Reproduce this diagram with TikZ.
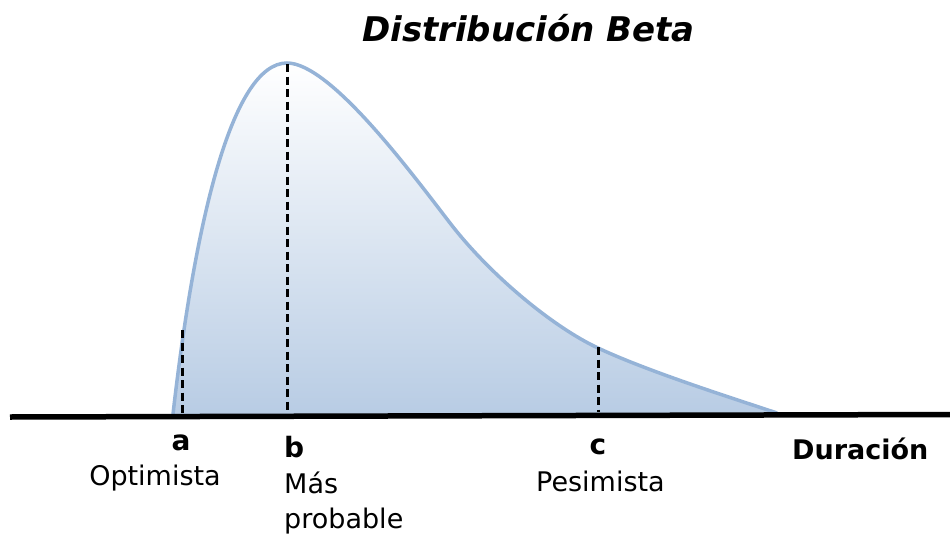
\documentclass[tikz,border=0pt]{standalone}
\usepackage{fontspec}
\setmainfont{DejaVu Sans}
\usepackage{xcolor}
\usetikzlibrary{calc}
\definecolor{curveline}{HTML}{95B3D7}
\definecolor{curvefill}{HTML}{B8CCE4}

\begin{document}
\begin{tikzpicture}[x=1pt, y=-1pt,
    lbl/.style={inner sep=0pt, font=\fontsize{27}{32}\selectfont},
    guide/.style={line width=3pt, dash pattern=on 8pt off 4.5pt}]
                        \useasboundingbox (0, 0) rectangle (950, 535);

                        \node[inner sep=0pt, anchor=base west, font=\fontsize{34}{40}\selectfont\bfseries\itshape] (title) at (362, 42) {Distribución Beta};

                        \coordinate (start) at (173, 414);
                        \coordinate (peak) at (287, 63);
                        \coordinate (bend) at (450, 223);
                        \coordinate (tail) at (598, 348);
                        \coordinate (stop) at (777, 413);

                        \path[top color=white, bottom color=curvefill]
                        (start) .. controls (195, 222) and (232, 63) .. (peak)
                        .. controls (330, 63) and (410, 171) .. (bend)
                        .. controls (490, 275) and (553, 327) .. (tail)
                        .. controls (648, 371.5) and (732, 398) .. (stop)
                        -- (777, 415) -- (173, 415) -- cycle;
                        \draw[curveline, line width=3.5pt]
                        (start) .. controls (195, 222) and (232, 63) .. (peak)
                        .. controls (330, 63) and (410, 171) .. (bend)
                        .. controls (490, 275) and (553, 327) .. (tail)
                        .. controls (648, 371.5) and (732, 398) .. (stop);

                        \coordinate (aTop) at (182, 330);
                        \coordinate (aBot) at (182, 413);
                        \coordinate (bTop) at (287, 64);
                        \coordinate (bBot) at (287, 412);
                        \coordinate (cTop) at (598, 347);
                        \coordinate (cBot) at (598, 412);
                        \coordinate (axL) at (10, 417);
                        \coordinate (axR) at (950, 414.5);

                        \draw[guide] (aTop) -- (aBot);
                        \draw[guide] (bTop) -- (bBot);
                        \draw[guide] (cTop) -- (cBot);
                        \draw[line width=5.5pt] (axL) -- (axR);

                        \node[lbl, anchor=base, font=\fontsize{28}{32}\selectfont\bfseries] (la) at (181, 450) {a};
                        \node[lbl, anchor=base] (opt) at (155, 485) {Optimista};
                        \node[lbl, anchor=base west, font=\fontsize{28}{32}\selectfont\bfseries] (lb) at (284, 457) {b};
                        \node[lbl, anchor=base west] (mas) at (284, 493) {Más};
                        \node[lbl, anchor=base west] (prob) at (284, 528) {probable};
                        \node[lbl, anchor=base, font=\fontsize{28}{32}\selectfont\bfseries] (lc) at (598, 454) {c};
                        \node[lbl, anchor=base west] (pes) at (536, 491) {Pesimista};
                        \node[lbl, anchor=base west, font=\fontsize{27}{32}\selectfont\bfseries] (dur) at (792, 459) {Duración};
                    \end{tikzpicture}
\end{document}
